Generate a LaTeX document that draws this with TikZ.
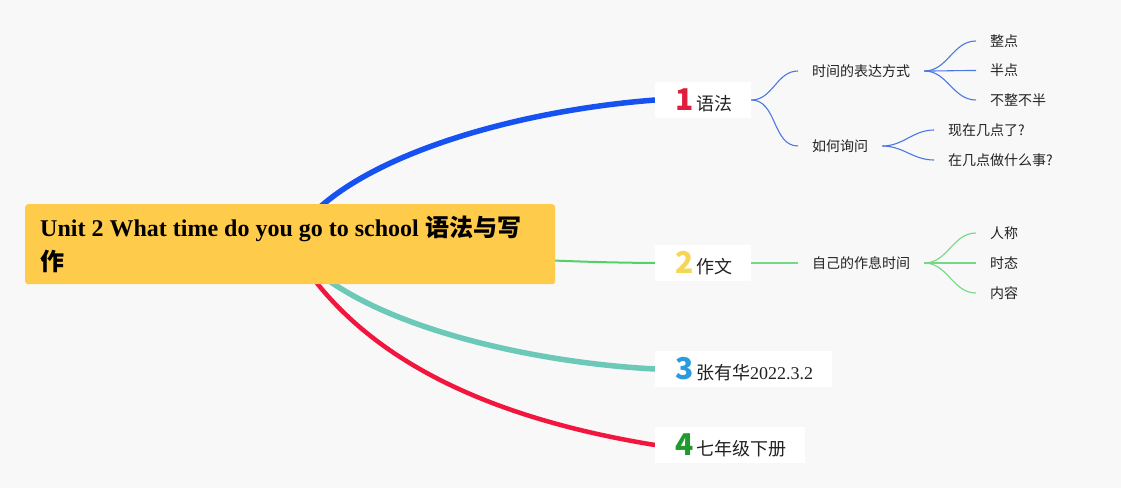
\documentclass[tikz,border=0pt]{standalone}
\usepackage{fontspec}
\setmainfont{Liberation Serif}
\newfontfamily\cjk{Noto Sans CJK SC}
\usetikzlibrary{positioning}
\definecolor{pageColor}{HTML}{F8F8F8}
\definecolor{rootColor}{HTML}{FFCB4A}
\definecolor{blueColor}{HTML}{1652F2}
\definecolor{greenColor}{HTML}{52D16B}
\definecolor{tealColor}{HTML}{6CC9B8}
\definecolor{redColor}{HTML}{F2163F}
\definecolor{subBlue}{HTML}{4B78E3}
\definecolor{subGreen}{HTML}{72D986}
\definecolor{numRed}{HTML}{E01E3C}
\definecolor{numYellow}{HTML}{F5D657}
\definecolor{numBlue}{HTML}{2A9BDE}
\definecolor{numGreen}{HTML}{1F9A2C}
\definecolor{textColor}{HTML}{222222}
\pgfdeclarelayer{back}
\pgfdeclarelayer{edges}
\pgfsetlayers{back,edges,main}
\tikzstyle{rootbox} = [rectangle, fill=rootColor, rounded corners=3pt, anchor=north west, minimum width=530pt, minimum height=80pt, text width=500pt, inner xsep=15pt, inner ysep=0pt, align=flush left, font=\fontsize{24}{34}\selectfont\bfseries]
\tikzstyle{topic} = [rectangle, fill=white, anchor=west, minimum height=36pt, inner xsep=19pt, inner ysep=0pt, text=textColor, font=\cjk\fontsize{18}{20}\selectfont]
\tikzstyle{subtopic} = [anchor=west, inner xsep=14pt, inner ysep=2pt, text=textColor, font=\cjk\fontsize{14}{16}\selectfont]
\tikzstyle{branch} = [line width=5.5pt]
\tikzstyle{twig} = [line width=1.1pt]
\newcommand{\topicnum}[2]{\makebox[20pt][c]{\textcolor{#1}{\fontsize{30}{30}\selectfont\bfseries #2}}\hspace{2pt}}

\begin{document}
\begin{tikzpicture}[x=1pt, y=-1pt]
\begin{pgfonlayer}{back}
\fill [pageColor] (0,0) rectangle (1121,488);
\end{pgfonlayer}
\useasboundingbox (0,0) rectangle (1121,488);

\node (root) [rootbox] at (25,204) {Unit 2 What time do you go to school\hspace{7pt}{\cjk 语法与写}\\{\cjk 作}};

\node (gram) [topic] at (655,100) {\topicnum{numRed}{1}语法};
\node (comp) [topic] at (655,263) {\topicnum{numYellow}{2}作文};
\node (author) [topic] at (655,369) {\topicnum{numBlue}{3}张有华{\rmfamily 2022.3.2}};
\node (book) [topic] at (655,445) {\topicnum{numGreen}{4}七年级下册};

\node (express) [subtopic] at (798,71) {时间的表达方式};
\node (ask) [subtopic] at (798,146) {如何询问};
\node (routine) [subtopic] at (798,263) {自己的作息时间};

\node (oclock) [subtopic] at (976,41) {整点};
\node (half) [subtopic] at (976,70.5) {半点};
\node (other) [subtopic] at (976,100) {不整不半};
\node (nowtime) [subtopic] at (934,130) {现在几点了?};
\node (dowhat) [subtopic] at (934,160) {在几点做什么事?};
\node (person) [subtopic] at (976,233) {人称};
\node (tense) [subtopic] at (976,263) {时态};
\node (content) [subtopic] at (976,293) {内容};

\begin{pgfonlayer}{edges}
\draw [branch, blueColor] (root.center) .. controls (330,165) and (500,112) .. (gram.west);
\draw [line width=2pt, greenColor] (root.center) .. controls (420,252) and (520,262) .. (comp.west);
\draw [branch, tealColor] (root.center) .. controls (345,320) and (520,362) .. (author.west);
\draw [line width=4.5pt, redColor] (root.center) .. controls (340,330) and (440,410) .. (book.west);

\draw [twig, subBlue] (gram.east) to[out=0, in=180] (express.west);
\draw [twig, subBlue] (gram.east) to[out=0, in=180] (ask.west);
\draw [twig, subBlue] (express.east) to[out=0, in=180] (oclock.west);
\draw [twig, subBlue] (express.east) to[out=0, in=180] (half.west);
\draw [twig, subBlue] (express.east) to[out=0, in=180] (other.west);
\draw [twig, subBlue] (ask.east) to[out=0, in=180] (nowtime.west);
\draw [twig, subBlue] (ask.east) to[out=0, in=180] (dowhat.west);

\draw [twig, subGreen] (comp.east) -- (routine.west);
\draw [twig, subGreen] (routine.east) to[out=0, in=180] (person.west);
\draw [twig, subGreen] (routine.east) to[out=0, in=180] (tense.west);
\draw [twig, subGreen] (routine.east) to[out=0, in=180] (content.west);
\end{pgfonlayer}
\end{tikzpicture}
\end{document}
